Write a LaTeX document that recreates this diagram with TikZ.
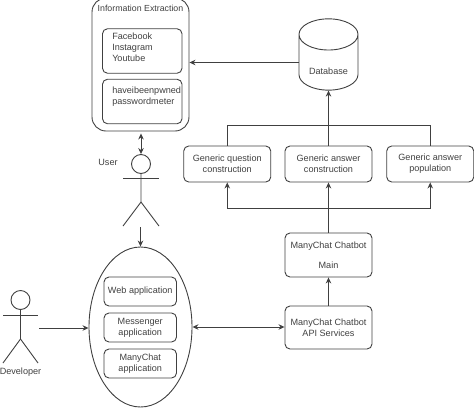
\documentclass[tikz,border=0pt]{standalone}
\usepackage{fontspec}
\setmainfont{Liberation Sans}
\usetikzlibrary{shapes.geometric, arrows.meta}
\definecolor{inkgray}{gray}{0.25}
\tikzset{
  every node/.style={font=\fontsize{9.1}{11}\selectfont, text=inkgray},
  roundbox/.style={draw=inkgray, line width=0.9pt, rounded corners=5pt, align=center, inner sep=0pt, minimum width=87pt},
  appbox/.style={roundbox, minimum width=72.5pt, minimum height=29pt},
  sourcebox/.style={roundbox, minimum width=79.5pt, minimum height=44.5pt, text width=60pt, align=left},
  headnode/.style={draw=inkgray, line width=0.9pt, circle, inner sep=0pt, minimum size=19pt},
  link/.style={draw=inkgray, line width=0.9pt},
}
\begin{document}
\begin{tikzpicture}[>={Stealth[length=6pt,width=5.5pt]}, x=1pt, y=-1pt]
  \clip (0,0) rectangle (474,408);
  % information extraction panel, its top edge runs off the page
  \node[roundbox, rounded corners=14pt, minimum width=97pt, minimum height=133pt] (info) at (140.5,64.5) {};
  \node (infotitle) at (140.5,8.5) {\fontsize{8.8}{11}\selectfont Information Extraction};
  \node[sourcebox] (social) at (142.25,51) {Facebook\\Instagram\\Youtube\\[-4pt]~};
  \node[sourcebox] (pwned) at (142.25,101.5) {haveibeenpwned\\passwordmeter\\~};
  % database and generic blocks
  \node[draw=inkgray, line width=0.9pt, shape=cylinder, shape border rotate=90, aspect=0.8, inner sep=0pt, align=center, minimum width=59pt, minimum height=65pt] (db) at (328.5,62.5) {~\\[13pt]Database};
  \node[roundbox, minimum height=36pt] (question) at (227.25,164) {Generic question\\construction};
  \node[roundbox, minimum height=36pt] (answer) at (328.5,164) {Generic answer\\construction};
  \node[roundbox, minimum height=36pt] (population) at (430.25,164) {Generic answer\\population};
  % chatbot blocks
  \node[roundbox, minimum height=44pt] (chatmain) at (328.5,255) {ManyChat Chatbot\\[9pt]Main};
  \node[roundbox, minimum height=43pt] (chatapi) at (328.5,327.5) {ManyChat Chatbot\\API Services};
  % application ellipse
  \node[draw=inkgray, line width=0.9pt, shape=ellipse, inner sep=0pt, minimum width=103pt, minimum height=160pt] (apps) at (140.5,327) {};
  \node[appbox] (webapp) at (140.25,291.5) {Web application};
  \node[appbox] (msgapp) at (140.25,327.5) {Messenger\\application};
  \node[appbox] (chatapp) at (140.25,363.5) {ManyChat\\application};
  % user figure
  \node[headnode] (userhead) at (141,164) {};
  \node (userlabel) at (108,162) {User};
  \coordinate (userhip) at (141,202);
  \coordinate (userfoot) at (140.5,227);
  \draw[link] (userhead) -- (userhip) -- (123,226);
  \draw[link] (userhip) -- (159,226);
  \draw[link] (123,178) -- (159,178);
  % developer figure
  \node[headnode] (devhead) at (20.5,300) {};
  \node (devlabel) at (20.5,372.5) {Developer};
  \coordinate (devhip) at (20.5,339);
  \coordinate (devhand) at (39,328);
  \draw[link] (devhead) -- (devhip) -- (3,363);
  \draw[link] (devhip) -- (38,363);
  \draw[link] (3,315) -- (38,315);
  % connectors
  \draw[link, <->] (info.south -| userhead) ++(0,2) -- (userhead.north);
  \draw[link, ->] (userfoot) -- (apps.north);
  \draw[link, ->] (devhand) -- (apps.west |- devhand);
  \draw[link, <->] (apps.east) -- (chatapi.west |- apps.east);
  \draw[link, ->] (chatapi) -- (chatmain);
  \draw[link, ->] (chatmain) -- (answer);
  \coordinate (lowbus) at (328.5,208);
  \draw[link, ->] (lowbus) -- (question.south |- lowbus) -- (question.south);
  \draw[link, ->] (lowbus) -- (population.south |- lowbus) -- (population.south);
  \coordinate (highbus) at (328.5,125);
  \draw[link] (question.north) -- (question.north |- highbus) -- (population.north |- highbus) -- (population.north);
  \draw[link, ->] (answer) -- (db.south);
  \draw[link, ->] (db.west |- db.center) -- (info.east |- db.center);
\end{tikzpicture}
\end{document}
